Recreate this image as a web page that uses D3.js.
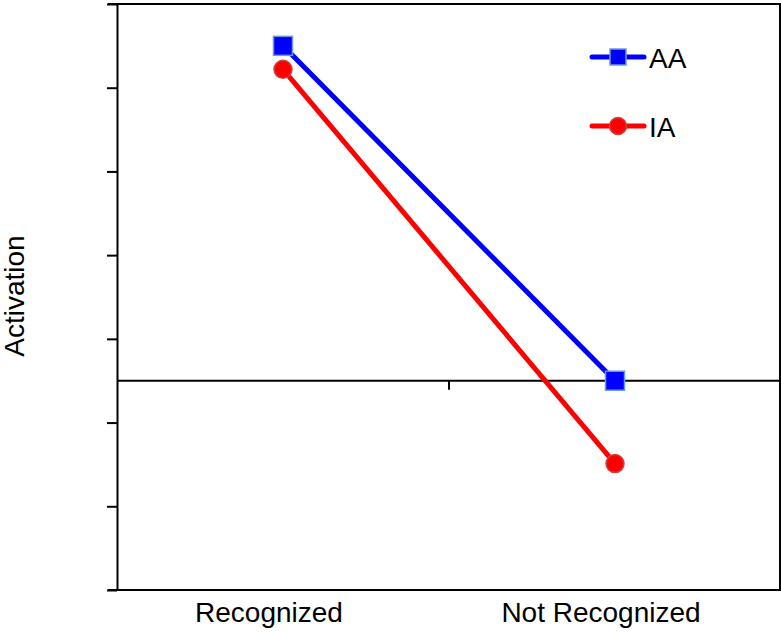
<!DOCTYPE html>
<html>
  <head>
    <meta charset="utf-8">
    <title>Activation</title>
    <script src="https://d3js.org/d3.v7.min.js"></script>
    <style>
      body { margin: 0; background: #fff; }
      text { font-family: "Liberation Sans", Arial, sans-serif; }
    </style>
  </head>
  <body>
    <script>
      var width = 781;
      var height = 632;

      var categories = ["Recognized", "Not Recognized"];
      var seriesNames = ["AA", "IA"];
      var aaValues = [4.0, 0.0];
      var iaValues = [3.72, -0.99];
      var yTicks = [-2.5, -1.5, -0.5, 0.5, 1.5, 2.5, 3.5, 4.5];

      var plotLeft = 117, plotRight = 780, plotTop = 4, plotBottom = 590;

      var xScale = d3.scaleBand()
          .domain(categories)
          .range([plotLeft, 781]);

      var yScale = d3.scaleLinear()
          .domain([-2.5, 4.5])
          .range([plotBottom, plotTop]);

      var svg = d3.select("body")
        .append("svg")
          .attr("width", width)
          .attr("height", height);

      // left axis, no labels
      svg.append("g")
          .attr("transform", "translate(" + plotLeft + ",0)")
          .call(d3.axisLeft(yScale).tickValues(yTicks).tickSize(10).tickSizeOuter(0).tickFormat(""))
          .call(function(g) {
            g.select(".domain").attr("stroke-width", 2);
            g.selectAll(".tick line").attr("stroke-width", 2);
          });

      // frame: top, right, bottom
      svg.append("path")
          .attr("d", "M" + (plotLeft - 9) + "," + plotTop + "H" + plotRight + "V" + plotBottom + "H" + (plotLeft - 9))
          .attr("fill", "none")
          .attr("stroke", "#000")
          .attr("stroke-width", 2);

      // zero line with category divider tick
      var zeroY = yScale(0);
      svg.append("line")
          .attr("x1", plotLeft).attr("x2", plotRight)
          .attr("y1", zeroY).attr("y2", zeroY)
          .attr("stroke", "#000").attr("stroke-width", 2);
      svg.append("line")
          .attr("x1", xScale(categories[1])).attr("x2", xScale(categories[1]))
          .attr("y1", zeroY).attr("y2", zeroY + 9)
          .attr("stroke", "#000").attr("stroke-width", 2);

      // category labels
      svg.selectAll("text.cat")
        .data(categories)
        .enter()
        .append("text")
          .attr("class", "cat")
          .attr("x", function(d) { return xScale(d) + xScale.bandwidth() / 2 - 14; })
          .attr("y", 622)
          .attr("text-anchor", "middle")
          .attr("font-size", 28)
          .text(function(d) { return d; });

      // y title
      svg.append("text")
          .attr("transform", "translate(24,296) rotate(-90)")
          .attr("text-anchor", "middle")
          .attr("font-size", 28)
          .text("Activation");

      var cx = function(d, i) { return xScale(categories[i]) + xScale.bandwidth() / 2; };
      var line = d3.line()
          .x(function(d, i) { return cx(d, i); })
          .y(function(d) { return yScale(d); });

      var sq = 19;

      // IA line (red)
      svg.append("path")
          .datum(iaValues)
          .attr("d", line)
          .attr("fill", "none")
          .attr("stroke", "#ff0000")
          .attr("stroke-width", 5);
      // AA line (blue)
      svg.append("path")
          .datum(aaValues)
          .attr("d", line)
          .attr("fill", "none")
          .attr("stroke", "#0000ff")
          .attr("stroke-width", 5);

      svg.selectAll("circle.ia")
        .data(iaValues)
        .enter()
        .append("circle")
          .attr("class", "ia")
          .attr("cx", cx)
          .attr("cy", function(d) { return yScale(d); })
          .attr("r", 9)
          .attr("fill", "#ff0000")
          .attr("stroke", "#cc4444")
          .attr("stroke-width", 1.5);

      svg.selectAll("rect.aa")
        .data(aaValues)
        .enter()
        .append("rect")
          .attr("class", "aa")
          .attr("x", function(d, i) { return cx(d, i) - sq / 2; })
          .attr("y", function(d) { return yScale(d) - sq / 2; })
          .attr("width", sq)
          .attr("height", sq)
          .attr("fill", "#0000ff")
          .attr("stroke", "#6b9bd6")
          .attr("stroke-width", 1.5);

      // legend
      var legend = svg.append("g");
      var legendY = [57, 126];
      seriesNames.forEach(function(name, i) {
        var y = legendY[i];
        var color = i === 0 ? "#0000ff" : "#ff0000";
        legend.append("line")
            .attr("x1", 592).attr("x2", 644)
            .attr("y1", y).attr("y2", y)
            .attr("stroke", color)
            .attr("stroke-width", 5)
            .attr("stroke-linecap", "round");
        if (i === 0) {
          legend.append("rect")
              .attr("x", 618 - 8).attr("y", y - 8)
              .attr("width", 16).attr("height", 16)
              .attr("fill", "#0000ff")
              .attr("stroke", "#6b9bd6")
              .attr("stroke-width", 1.5);
        } else {
          legend.append("circle")
              .attr("cx", 618).attr("cy", y)
              .attr("r", 8.5)
              .attr("fill", "#ff0000")
              .attr("stroke", "#cc4444")
              .attr("stroke-width", 1.5);
        }
        legend.append("text")
            .attr("x", 649)
            .attr("y", y + 11)
            .attr("font-size", 28)
            .text(name);
      });
    </script>
  </body>
</html>
